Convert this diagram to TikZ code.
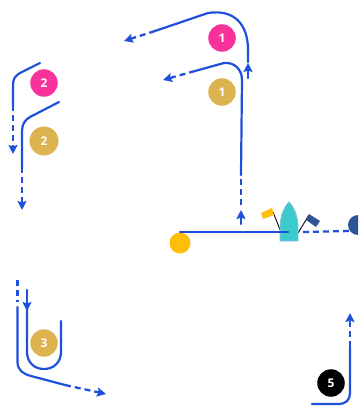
\documentclass[tikz,border=0pt]{standalone}
\usepackage{fontspec}
\setmainfont{Open Sans}
\usetikzlibrary{arrows.meta}
\definecolor{route}{HTML}{1E50DC}
\definecolor{gold}{HTML}{DDB34F}
\definecolor{pinkm}{HTML}{F8329A}
\definecolor{sunny}{HTML}{FFBE0A}
\definecolor{navy}{HTML}{2F5597}
\definecolor{teal1}{HTML}{3CCBCB}
\definecolor{hull}{HTML}{8DB8E8}
\tikzset{
  leg/.style={route,line width=2.2pt,line cap=round},
  dashleg/.style={route,line width=2.3pt,dash pattern=on 6pt off 4pt},
  tip/.style={-{Stealth[length=9pt,width=9pt,inset=1.5pt]}},
  num/.style={circle,minimum size=27.5pt,inner sep=0pt,text=white,font=\bfseries\fontsize{12pt}{12pt}\selectfont},
  goldnum/.style={num,fill=gold},
  pinknum/.style={num,fill=pinkm},
  blacknum/.style={num,fill=black},
  stick/.style={black,line width=0.9pt},
}
\begin{document}
\begin{tikzpicture}[x=1pt,y=-1pt]
\useasboundingbox (0,0) rectangle (358,406);
\clip (0,0) rectangle (358,406);
% start line
\coordinate (pin) at (180,232);
\coordinate (bowR) at (303,232);
\coordinate (rcend) at (349,231);
\coordinate (boatline) at (288,232);
\node[circle,fill=sunny,minimum size=21pt,inner sep=0pt] (pinmark) at (180,243) {};
\node[circle,fill=navy,minimum size=20pt,inner sep=0pt] (rcmark) at (358,225) {};
\draw[stick] (273,212) -- (281,232);
\draw[stick] (298,233) -- (309,215);
\fill[sunny] (261,213) -- (272,208) -- (274,215) -- (263,219) -- cycle;
\fill[navy] (309,214) -- (320,221) -- (316,227) -- (306,220) -- cycle;
\draw[hull,line width=0.8pt,fill=teal1] (289,202) .. controls (294,207) and (298,216) .. (298,228) -- (298,241) -- (280,241) -- (280,228) .. controls (280,216) and (284,207) .. (289,202) -- cycle;
\draw[leg] (pin) -- (boatline);
\draw[dashleg] (bowR) -- (rcend);
% leg 1 gold
\coordinate (a1) at (241,175);
\coordinate (a2) at (195,71);
\draw[leg,tip] (241,224) -- (241,210);
\draw[dashleg] (241,205) -- (a1);
\draw[leg] (a1) -- (242,80) .. controls (242,69) and (234,62) .. (224,63) -- (a2);
\draw[dashleg,tip] (a2) -- (163,80);
% leg 1 pink
\coordinate (b1) at (248,78);
\coordinate (b2) at (155,31);
\draw[leg,tip] (b1) -- (248,63);
\draw[leg] (248,62) -- (248,50) .. controls (248,24) and (234,9) .. (208,13) -- (b2);
\draw[dashleg,tip] (b2) -- (124,41);
% leg 2 pink
\coordinate (c1) at (13,105);
\draw[leg] (40,63) -- (20,73) .. controls (15,76) and (13,79) .. (13,85) -- (c1);
\draw[dashleg,tip] (c1) -- (13,154);
% leg 2 gold
\coordinate (d1) at (22,167);
\draw[leg] (59,102) -- (30,117) .. controls (25,120) and (22,124) .. (22,131) -- (d1);
\draw[dashleg,tip] (d1) -- (22,210);
% leg 3 outer
\coordinate (e1) at (17.5,307);
\coordinate (e2) at (65,385);
\draw[dashleg] (17.5,280) -- (17.5,302);
\draw[leg] (e1) -- (17.5,362) .. controls (17.5,370) and (23,374) .. (31,376) -- (e2);
\draw[dashleg,tip] (e2) -- (106,394);
% leg 3 inner
\draw[leg,tip] (27,290) -- (27,311);
\draw[leg] (27,308) -- (27,352) .. controls (27,362) and (34,369) .. (44,369) .. controls (54,369) and (61,362) .. (61,352) -- (61,321);
% leg 5
\coordinate (f1) at (350,347);
\draw[leg] (312,404) -- (338,404) .. controls (346,404) and (350,400) .. (350,393) -- (f1);
\draw[dashleg,tip] (f1) -- (350,313);
% numbers
\node[pinknum] (p1) at (222,38) {1};
\node[goldnum] (g1) at (222,92) {1};
\node[pinknum] (p2) at (44,83) {2};
\node[goldnum,minimum size=29pt] (g2) at (44,141) {2};
\node[goldnum] (g3) at (44,343) {3};
\node[blacknum] (k5) at (331,383) {5};
\end{tikzpicture}
\end{document}
